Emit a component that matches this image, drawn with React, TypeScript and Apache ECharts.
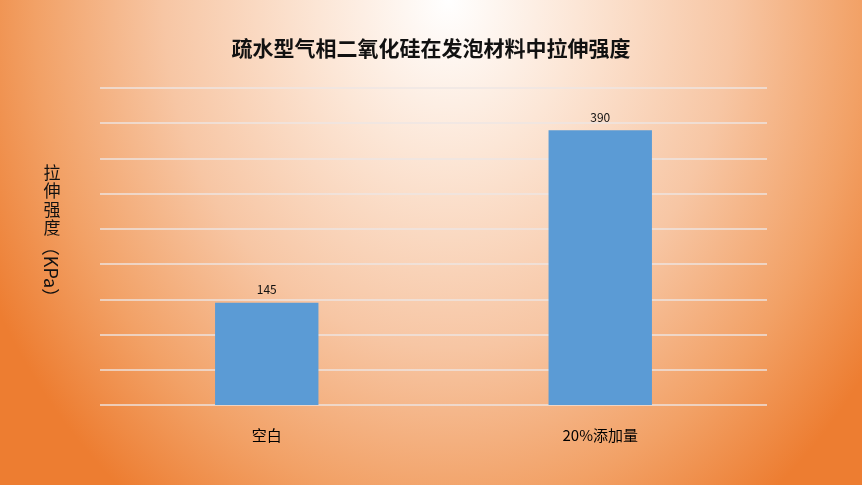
import React, { useEffect, useRef } from 'react';
import * as echarts from 'echarts';

const categories = ['空白', '20%添加量'];
const strengthValues = [145, 390];
const chartTitle = '疏水型气相二氧化硅在发泡材料中拉伸强度';
const yLabelChars = ['拉', '伸', '强', '度'];
const yLabelUnit = '（KPa）';

const FONT = '"Noto Sans CJK SC", "Noto Sans", sans-serif';

const App: React.FC = () => {
  const chartRef = useRef<HTMLDivElement>(null);

  useEffect(() => {
    if (!chartRef.current) return;
    const chart = echarts.init(chartRef.current, undefined, { renderer: 'svg' });

    // vertical axis name: stacked CJK chars, then the unit turned sideways
    const yLabelGraphics: any[] = yLabelChars.map((ch, i) => ({
      type: 'text',
      x: 52,
      y: 171 + i * 18.5,
      style: {
        text: ch,
        fontSize: 17,
        fontFamily: FONT,
        fill: '#111',
        align: 'center',
        verticalAlign: 'middle'
      }
    }));
    yLabelGraphics.push({
      type: 'text',
      x: 52,
      y: 272,
      rotation: -Math.PI / 2,
      style: {
        text: yLabelUnit,
        fontSize: 18,
        fontFamily: FONT,
        fill: '#111',
        align: 'center',
        verticalAlign: 'middle'
      }
    });

    const option = {
      animation: false,
      backgroundColor: 'transparent',
      title: {
        text: chartTitle,
        left: 'center',
        top: 31,
        textStyle: {
          color: '#111',
          fontSize: 21,
          fontWeight: 'bold',
          fontFamily: FONT
        }
      },
      grid: {
        left: 100,
        right: 95,
        top: 88,
        bottom: 80
      },
      xAxis: {
        type: 'category',
        data: categories,
        axisLine: { show: false },
        axisTick: { show: false },
        axisLabel: {
          color: '#000',
          fontSize: 15,
          margin: 22,
          fontFamily: FONT
        }
      },
      yAxis: {
        type: 'value',
        min: 0,
        max: 450,
        interval: 50,
        axisLabel: { show: false },
        axisLine: { show: false },
        axisTick: { show: false },
        splitLine: {
          lineStyle: { color: 'rgba(236,230,228,0.95)', width: 1.5 }
        }
      },
      graphic: yLabelGraphics,
      series: [
        {
          type: 'bar',
          data: strengthValues,
          barWidth: '31%',
          itemStyle: { color: '#5B9BD5' },
          label: {
            show: true,
            position: 'top',
            distance: 8,
            color: '#111',
            fontSize: 12,
            fontFamily: FONT
          }
        }
      ]
    };

    chart.setOption(option);

    return () => {
      chart.dispose();
    };
  }, []);

  return (
    <div
      style={{
        position: 'fixed',
        left: 0,
        top: 0,
        width: 862,
        height: 485,
        background:
          'radial-gradient(ellipse 60% 130% at 52% 0%, #ffffff 0%, #fce6d6 25%, #f7c6a4 55%, #f2a166 80%, #ed7d31 100%)'
      }}
    >
      <div ref={chartRef} style={{ width: 862, height: 485 }} />
    </div>
  );
};

export default App;
